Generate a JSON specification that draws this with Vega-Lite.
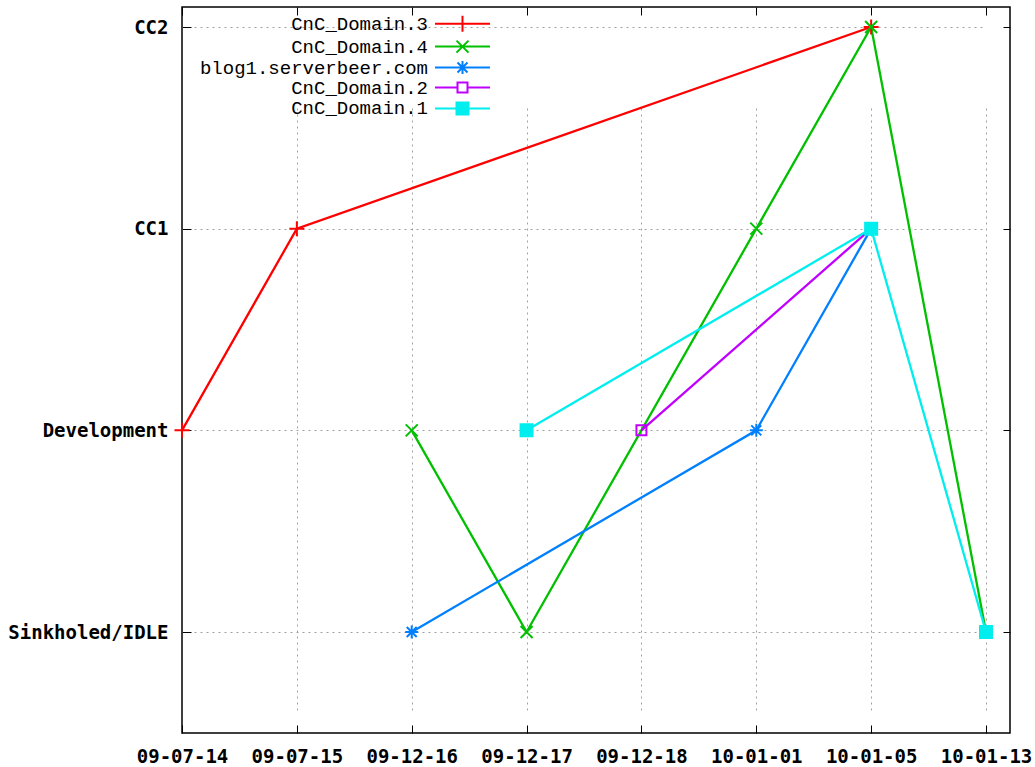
{
  "$schema": "https://vega.github.io/schema/vega-lite/v6.json",
  "width": 828,
  "height": 726,
  "autosize": {"type": "none"},
  "padding": {"left": 182, "top": 7, "right": 25, "bottom": 34},
  "background": "#ffffff",
  "config": {
    "view": {"stroke": "#000000", "strokeWidth": 1.5},
    "axis": {
      "labelFont": "DejaVu Sans Mono",
      "labelFontWeight": "bold",
      "labelFontSize": 19,
      "labelColor": "#000000",
      "tickColor": "#000000",
      "tickWidth": 1,
      "domain": false,
      "title": null,
      "labelOverlap": false,
      "gridColor": "#a0a0a0",
      "gridDash": [2, 4],
      "gridWidth": 1
    }
  },
  "data": {
    "values": [
      {"series": "CnC_Domain.3", "date": "09-07-14", "state": "Development"},
      {"series": "CnC_Domain.3", "date": "09-07-15", "state": "CC1"},
      {"series": "CnC_Domain.3", "date": "10-01-05", "state": "CC2"},
      {"series": "CnC_Domain.4", "date": "09-12-16", "state": "Development"},
      {"series": "CnC_Domain.4", "date": "09-12-17", "state": "Sinkholed/IDLE"},
      {"series": "CnC_Domain.4", "date": "10-01-01", "state": "CC1"},
      {"series": "CnC_Domain.4", "date": "10-01-05", "state": "CC2"},
      {"series": "CnC_Domain.4", "date": "10-01-13", "state": "Sinkholed/IDLE"},
      {"series": "blog1.serverbeer.com", "date": "09-12-16", "state": "Sinkholed/IDLE"},
      {"series": "blog1.serverbeer.com", "date": "10-01-01", "state": "Development"},
      {"series": "blog1.serverbeer.com", "date": "10-01-05", "state": "CC1"},
      {"series": "CnC_Domain.2", "date": "09-12-18", "state": "Development"},
      {"series": "CnC_Domain.2", "date": "10-01-05", "state": "CC1"},
      {"series": "CnC_Domain.1", "date": "09-12-17", "state": "Development"},
      {"series": "CnC_Domain.1", "date": "10-01-05", "state": "CC1"},
      {"series": "CnC_Domain.1", "date": "10-01-13", "state": "Sinkholed/IDLE"}
    ]
  },
  "resolve": {"axis": {"x": "independent", "y": "independent"}},
  "layer": [
    {
      "mark": {"type": "line", "strokeWidth": 2.3},
      "encoding": {
        "x": {
          "field": "date", "type": "ordinal",
          "scale": {"type": "point", "domain": ["09-07-14", "09-07-15", "09-12-16", "09-12-17", "09-12-18", "10-01-01", "10-01-05", "10-01-13"], "range": [0, 804], "padding": 0},
          "axis": {"orient": "bottom", "grid": true, "gridOpacity": {"condition": {"test": "datum.value === '09-07-14'", "value": 0}, "value": 1}, "tickSize": -8, "labelPadding": 22, "labelAngle": 0}
        },
        "y": {
          "field": "state", "type": "ordinal",
          "scale": {"type": "point", "domain": ["Sinkholed/IDLE", "Development", "CC1", "CC2"], "range": [625, 20], "padding": 0},
          "axis": {"orient": "left", "grid": true, "tickSize": -9, "labelPadding": 23}
        },
        "color": {
          "field": "series", "type": "nominal",
          "scale": {"domain": ["CnC_Domain.3", "CnC_Domain.4", "blog1.serverbeer.com", "CnC_Domain.2", "CnC_Domain.1"], "range": ["#ff0000", "#00c000", "#0080ff", "#c000ff", "#00eeee"]},
          "legend": {
            "orient": "none",
            "legendX": 271,
            "legendY": 7.2,
            "title": null,
            "padding": 0,
            "labelFont": "Liberation Mono",
            "labelFontSize": 19,
            "labelColor": "#000000",
            "labelAlign": "right",
            "labelOffset": -44,
            "labelLimit": 400,
            "symbolSize": 100,
            "symbolStrokeWidth": 2,
            "rowPadding": -0.1,
            "encode": {
              "symbols": {
                "update": {
                  "shape": {"signal": "datum.value === 'CnC_Domain.3' ? 'M-5.5,0L5.5,0M0,-1.6L0,1.6' : datum.value === 'CnC_Domain.4' ? 'M-5.5,0L5.5,0M-1.2,-1.2L1.2,1.2M-1.2,1.2L1.2,-1.2' : datum.value === 'blog1.serverbeer.com' ? 'M-5.5,0L5.5,0M0,-1.3L0,1.3M-1,-1L1,1M-1,1L1,-1' : datum.value === 'CnC_Domain.2' ? 'M-5.5,0L-1,0M1,0L5.5,0M-1,-1L1,-1L1,1L-1,1Z' : 'M-5.5,0L5.5,0M-1.2,-1.2L1.2,-1.2L1.2,1.2L-1.2,1.2Z'"},
                  "fill": {"signal": "datum.value === 'CnC_Domain.1' ? '#00eeee' : 'transparent'"},
                  "strokeWidth": {"value": 2},
                  "opacity": {"value": 1}
                }
              }
            }
          }
        }
      }
    },
    {
      "transform": [{"filter": {"field": "series", "equal": "CnC_Domain.3"}}],
      "mark": {"type": "point", "shape": "M-1.5,0L1.5,0M0,-1.5L0,1.5", "size": 100, "strokeWidth": 2, "filled": false, "color": "#ff0000", "opacity": 1},
      "encoding": {
        "x": {"field": "date", "type": "ordinal", "axis": null},
        "y": {"field": "state", "type": "ordinal", "axis": null}
      }
    },
    {
      "transform": [{"filter": {"field": "series", "equal": "CnC_Domain.4"}}],
      "mark": {"type": "point", "shape": "M-1.2,-1.2L1.2,1.2M-1.2,1.2L1.2,-1.2", "size": 100, "strokeWidth": 2, "filled": false, "color": "#00c000", "opacity": 1},
      "encoding": {
        "x": {"field": "date", "type": "ordinal", "axis": null},
        "y": {"field": "state", "type": "ordinal", "axis": null}
      }
    },
    {
      "transform": [{"filter": {"field": "series", "equal": "blog1.serverbeer.com"}}],
      "mark": {"type": "point", "shape": "M-1.3,0L1.3,0M0,-1.3L0,1.3M-1,-1L1,1M-1,1L1,-1", "size": 100, "strokeWidth": 2, "filled": false, "color": "#0080ff", "opacity": 1},
      "encoding": {
        "x": {"field": "date", "type": "ordinal", "axis": null},
        "y": {"field": "state", "type": "ordinal", "axis": null}
      }
    },
    {
      "transform": [{"filter": {"field": "series", "equal": "CnC_Domain.2"}}],
      "mark": {"type": "point", "shape": "M-1,-1L1,-1L1,1L-1,1Z", "size": 100, "strokeWidth": 2, "filled": false, "color": "#c000ff", "opacity": 1},
      "encoding": {
        "x": {"field": "date", "type": "ordinal", "axis": null},
        "y": {"field": "state", "type": "ordinal", "axis": null}
      }
    },
    {
      "transform": [{"filter": {"field": "series", "equal": "CnC_Domain.1"}}],
      "mark": {"type": "point", "shape": "M-1.2,-1.2L1.2,-1.2L1.2,1.2L-1.2,1.2Z", "size": 100, "strokeWidth": 2, "filled": true, "color": "#00eeee", "stroke": "#00eeee", "opacity": 1},
      "encoding": {
        "x": {"field": "date", "type": "ordinal", "axis": null},
        "y": {"field": "state", "type": "ordinal", "axis": null}
      }
    },
    {
      "mark": {"type": "point", "opacity": 0},
      "encoding": {
        "x": {"field": "date", "type": "ordinal", "axis": {"orient": "top", "labels": false, "grid": false, "tickSize": -8}},
        "y": {"field": "state", "type": "ordinal", "axis": {"orient": "right", "labels": false, "grid": false, "tickSize": -7}}
      }
    }
  ]
}
